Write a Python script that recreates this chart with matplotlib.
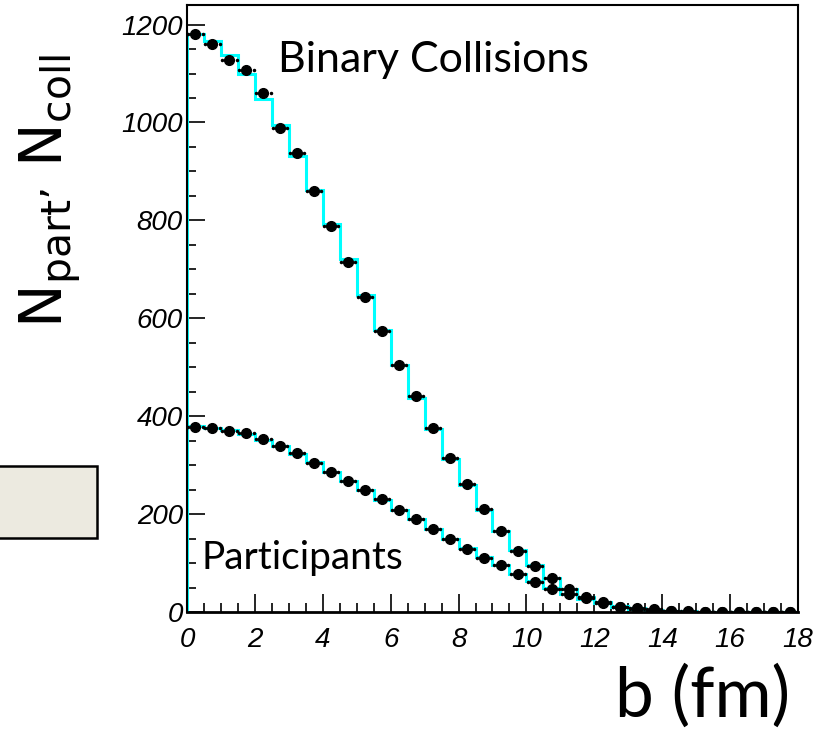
import numpy as np
import matplotlib
matplotlib.use("Agg")
import matplotlib.pyplot as plt
from matplotlib.patches import Rectangle

plt.rcParams['mathtext.fontset'] = 'custom'
plt.rcParams['mathtext.rm'] = 'Liberation Sans'

# impact parameter bins (fm), 0.5 fm wide
edges = np.arange(0, 18.5, 0.5)
centers = edges[:-1] + 0.25

# binary collisions: histogram (cyan) and points (black)
ncoll_hist = [1181, 1166, 1138, 1099, 1048, 995, 931, 863, 792, 722, 648, 576,
              505, 438, 373, 313, 259, 208, 165, 126, 96, 70, 46, 30,
              20, 12, 8, 5, 3, 2, 1, 1, 0, 0, 0, 0]
ncoll_pts = [1181, 1160, 1127, 1107, 1061, 988, 937, 860, 788, 714, 643, 574,
             504, 441, 375, 314, 261, 210, 165, 125, 94, 69, 48, 31,
             20, 11, 9, 6, 3, 2, 1, 1, 0, 0, 0, 0]

# participants
npart_hist = [380, 376, 371, 364, 352, 339, 323, 306, 287, 268, 249, 229,
              209, 190, 170, 150, 131, 112, 95, 78, 63, 49, 37, 27,
              18, 11, 7, 4, 2, 1, 1, 0, 0, 0, 0, 0]
npart_pts = [378, 375, 369, 365, 353, 339, 325, 305, 286, 267, 249, 230,
             208, 189, 169, 149, 129, 111, 96, 77, 62, 48, 36, 28,
             18, 11, 7, 5, 2, 1, 1, 0, 0, 0, 0, 0]

fig = plt.figure(figsize=(8.29, 7.30), dpi=100)
ax = fig.add_axes([187/829, 1 - 612/730, (798-187)/829, (612-5)/730])

for hist, pts in [(ncoll_hist, ncoll_pts), (npart_hist, npart_pts)]:
    ax.stairs(hist, edges, baseline=0, color='#00FFFF', lw=2.2, zorder=2)
    ax.plot(centers, pts, 'o', color='k', ms=7, zorder=4)
    ax.plot(np.r_[centers - 0.21, centers + 0.21], np.r_[pts, pts], '.',
            color='k', ms=3, zorder=3)

ax.set_xlim(0, 18)
ax.set_ylim(0, 1240)
ax.set_xticks(np.arange(0, 19, 2))
ax.set_xticks(np.arange(0, 18.01, 0.5), minor=True)
ax.set_yticks(np.arange(0, 1201, 200))
ax.set_yticks(np.arange(0, 1201, 50), minor=True)
ax.tick_params(which='both', direction='in', top=False, right=False, width=1.2,
               labelsize=20, labelfontfamily='Liberation Sans')
ax.tick_params(which='major', length=13)
ax.tick_params(which='minor', length=6.5)
ax.tick_params(axis='x', pad=11)
ax.tick_params(axis='y', pad=3)
for lab in ax.get_xticklabels() + ax.get_yticklabels():
    lab.set_fontstyle('italic')
for sp in ax.spines.values():
    sp.set_linewidth(1.5)
ax.spines['bottom'].set_linewidth(2)

ax.text(278/829, 1 - 72/730, 'Binary Collisions', transform=fig.transFigure,
        fontfamily='Lato', fontsize=31, ha='left', va='baseline')
ax.text(202/829, 1 - 569/730, 'Participants', transform=fig.transFigure,
        fontfamily='Lato', fontsize=28, ha='left', va='baseline')
fig.text(615/829, 1 - 717/730, 'b (fm)', fontfamily='Lato', fontsize=50,
         ha='left', va='baseline')
fig.text(18/829, 1 - 328/730, '$\\mathregular{N_{part\u2019}\\ N_{coll}}$',
         rotation=90, fontsize=42, ha='left', va='bottom')

fig.patches.append(Rectangle((-5/829, 1 - 538/730), 102/829, 72/730,
                             transform=fig.transFigure, facecolor='#ECEAE0',
                             edgecolor='k', lw=1.8))

fig.savefig('out.png', dpi=100)
